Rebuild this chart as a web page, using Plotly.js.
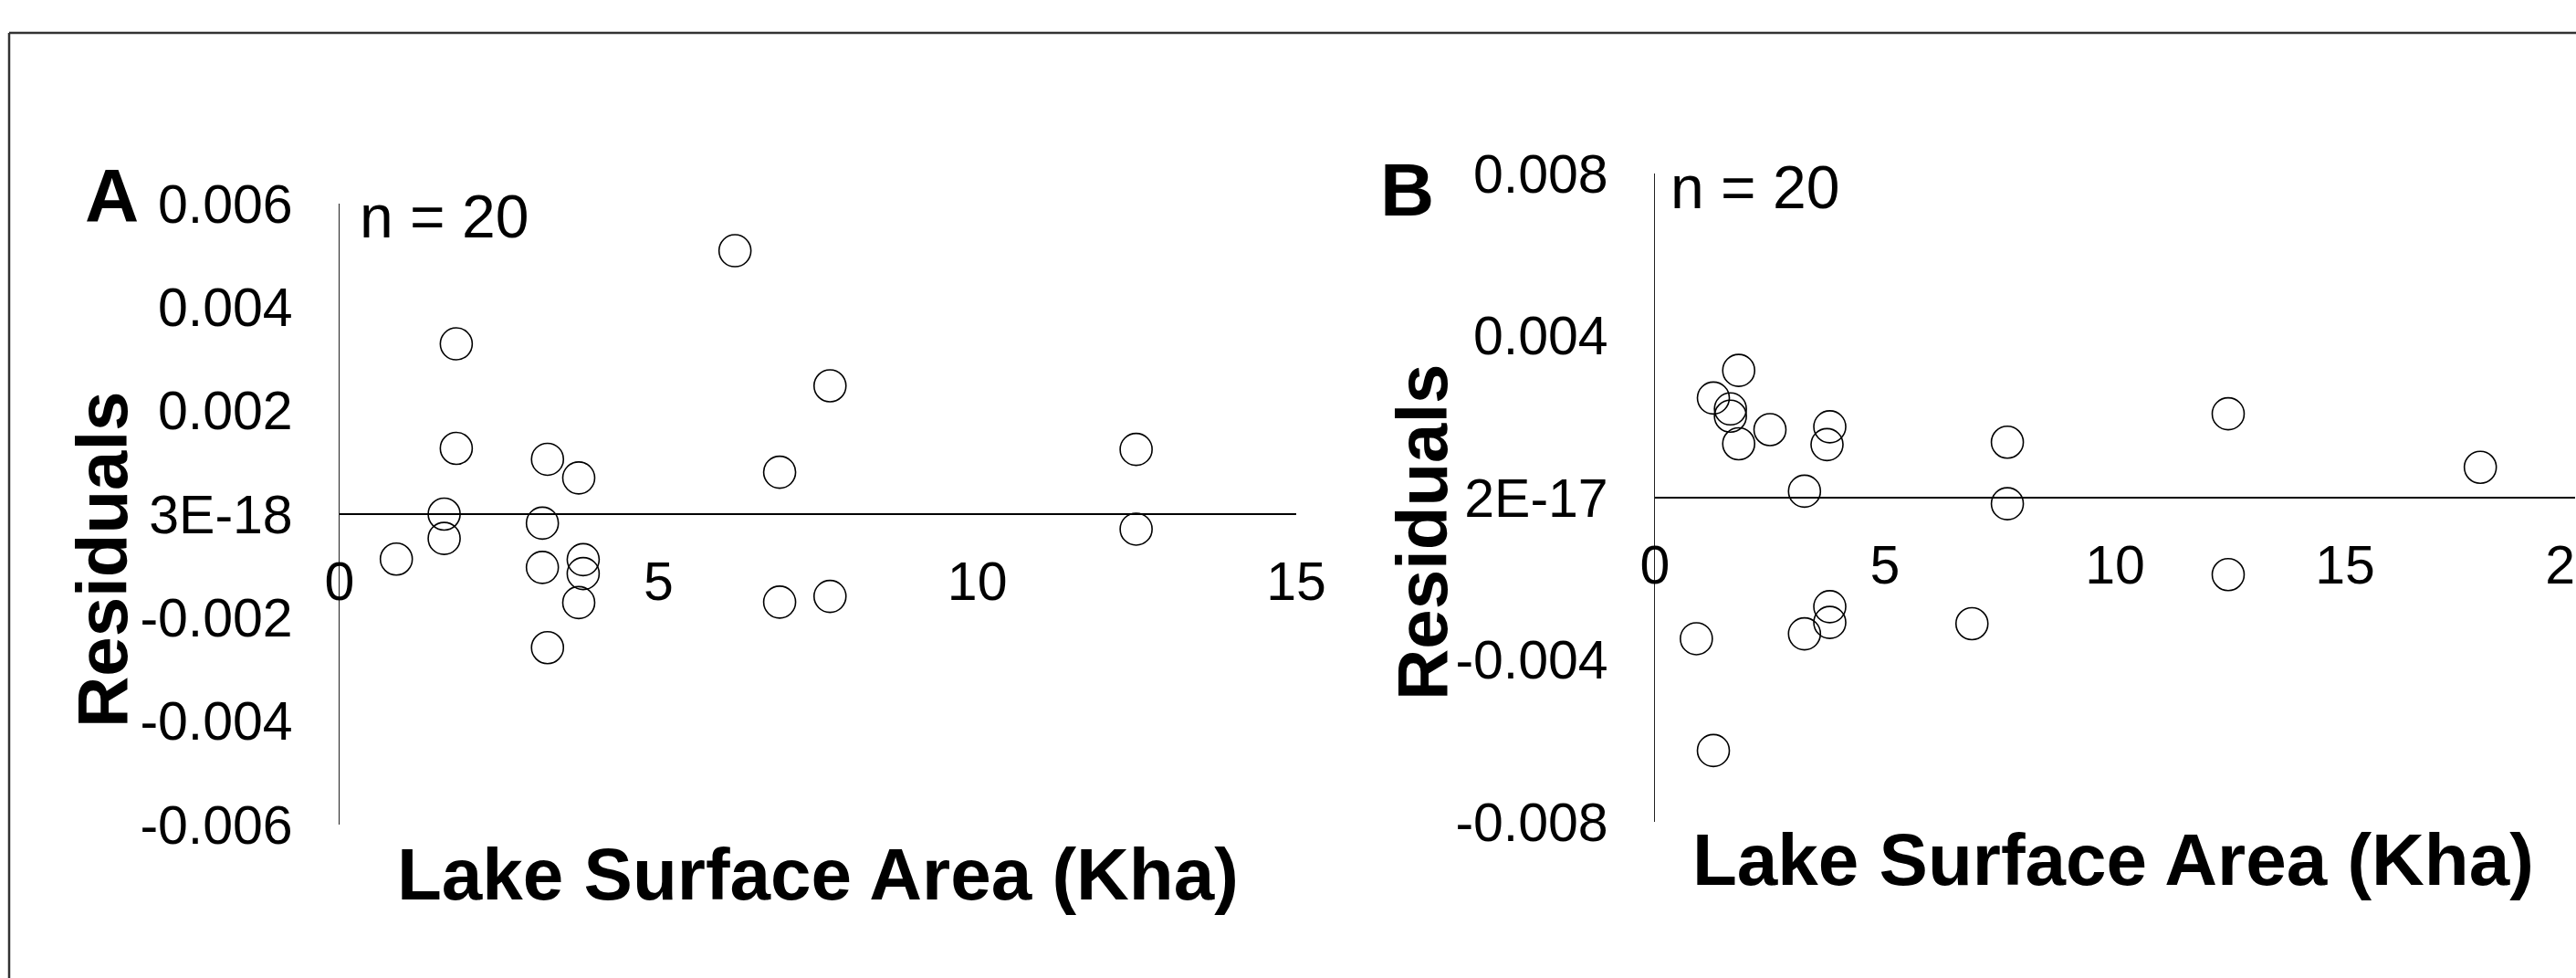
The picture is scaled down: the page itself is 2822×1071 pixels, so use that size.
<!DOCTYPE html>
<html>
<head>
<meta charset="utf-8">
<script src="https://cdn.plot.ly/plotly-3.0.1.min.js"></script>
<style>html,body{margin:0;padding:0;background:#fff;}#chart{width:2822px;height:1071px;}</style>
</head>
<body>
<div id="chart"></div>
<script>
// Panel A data
const areaA = [6.20, 1.83, 7.69, 1.83, 12.49, 3.26, 3.75, 6.90, 1.64, 3.18, 12.49, 1.64, 0.89, 3.18, 3.82, 3.82, 3.75, 6.90, 7.69, 3.26];
const residA = [0.00509, 0.00329, 0.00248, 0.00127, 0.00125, 0.00106, 0.00070, 0.00081, 0.00000, -0.000175, -0.00029, -0.00047, -0.00087, -0.00103, -0.00088, -0.00115, -0.00171, -0.00170, -0.00159, -0.00258];
// Panel B data
const areaB = [1.82, 1.27, 1.64, 1.64, 1.82, 2.50, 3.80, 3.74, 3.25, 7.66, 7.66, 12.46, 17.94, 12.46, 3.80, 3.80, 3.25, 0.90, 6.89, 1.27];
const residB = [0.00314, 0.00246, 0.00219, 0.00201, 0.00133, 0.00168, 0.00175, 0.00131, 0.00016, 0.00137, -0.00015, 0.00207, 0.00075, -0.00190, -0.00269, -0.00308, -0.00336, -0.00348, -0.00311, -0.00624];

const yTickValsA = [0.006, 0.004, 0.002, 0, -0.002, -0.004, -0.006];
const yTickTextA = ['0.006', '0.004', '0.002', '3E-18', '-0.002', '-0.004', '-0.006'];
const xTickValsA = [0, 5, 10, 15];
const yTickValsB = [0.008, 0.004, 0, -0.004, -0.008];
const yTickTextB = ['0.008', '0.004', '2E-17', '-0.004', '-0.008'];
const xTickValsB = [0, 5, 10, 15, 20];

const W = 2822, H = 1071;
const px = v => v / W;
const py = v => 1 - v / H;
const FONT = 'Liberation Sans, Arial, sans-serif';

const marker = {symbol: 'circle-open', size: 35, color: '#000', line: {width: 1.6, color: '#000'}};

const traces = [
  {x: areaA, y: residA, type: 'scatter', mode: 'markers', xaxis: 'x', yaxis: 'y', marker: marker, hoverinfo: 'none'},
  {x: areaB, y: residB, type: 'scatter', mode: 'markers', xaxis: 'x2', yaxis: 'y2', marker: marker, hoverinfo: 'none'}
];

const yDomA = [py(903), py(223)];
const yDomB = [py(900), py(190)];

const tickFont = {family: FONT, size: 59, color: '#000'};

const layout = {
  width: W, height: H,
  margin: {l: 0, r: 0, t: 0, b: 0},
  paper_bgcolor: '#fff', plot_bgcolor: 'rgba(0,0,0,0)',
  showlegend: false,
  font: {family: FONT, color: '#000'},
  xaxis: {
    domain: [px(372), px(1420)], range: [0, 15], anchor: 'free', position: (yDomA[0] + yDomA[1]) / 2,
    showline: true, linecolor: '#000', linewidth: 2, ticks: '', ticklen: 0,
    tickvals: xTickValsA, ticktext: xTickValsA.map(String), tickfont: tickFont,
    ticklabelstandoff: 22, ticklabeloverflow: 'allow', showgrid: false, zeroline: false, fixedrange: true
  },
  yaxis: {
    domain: yDomA, range: [-0.006, 0.006], anchor: 'x',
    showline: true, linecolor: '#222', linewidth: 1.5, ticks: '', ticklen: 0,
    tickvals: yTickValsA, ticktext: yTickTextA, tickfont: tickFont,
    ticklabelstandoff: 38, ticklabeloverflow: 'allow', showgrid: false, zeroline: false, fixedrange: true
  },
  xaxis2: {
    domain: [px(1813), px(2821)], range: [0, 20], anchor: 'free', position: (yDomB[0] + yDomB[1]) / 2,
    showline: true, linecolor: '#000', linewidth: 2, ticks: '', ticklen: 0,
    tickvals: xTickValsB, ticktext: xTickValsB.map(String), tickfont: tickFont,
    ticklabelstandoff: 22, ticklabeloverflow: 'allow', showgrid: false, zeroline: false, fixedrange: true
  },
  yaxis2: {
    domain: yDomB, range: [-0.008, 0.008], anchor: 'x2',
    showline: true, linecolor: '#222', linewidth: 1.5, ticks: '', ticklen: 0,
    tickvals: yTickValsB, ticktext: yTickTextB, tickfont: tickFont,
    ticklabelstandoff: 38, ticklabeloverflow: 'allow', showgrid: false, zeroline: false, fixedrange: true
  },
  shapes: [
    {type: 'line', xref: 'paper', yref: 'paper', x0: px(10), x1: px(10), y0: -0.02, y1: py(36), line: {color: '#333', width: 2.5}},
    {type: 'line', xref: 'paper', yref: 'paper', x0: px(10), x1: 1.02, y0: py(36), y1: py(36), line: {color: '#333', width: 2.5}}
  ],
  annotations: [
    {text: '<b>A</b>', xref: 'paper', yref: 'paper', x: px(122), y: py(214), xanchor: 'center', yanchor: 'middle', showarrow: false, font: {family: FONT, size: 82, color: '#000'}},
    {text: '<b>B</b>', xref: 'paper', yref: 'paper', x: px(1541), y: py(208), xanchor: 'center', yanchor: 'middle', showarrow: false, font: {family: FONT, size: 82, color: '#000'}},
    {text: 'n = 20', xref: 'paper', yref: 'paper', x: px(392), y: py(237), xanchor: 'left', yanchor: 'middle', showarrow: false, font: {family: FONT, size: 66, color: '#000'}},
    {text: 'n = 20', xref: 'paper', yref: 'paper', x: px(1828), y: py(205), xanchor: 'left', yanchor: 'middle', showarrow: false, font: {family: FONT, size: 66, color: '#000'}},
    {text: '<b>Residuals</b>', xref: 'paper', yref: 'paper', x: px(112), y: py(613), xanchor: 'center', yanchor: 'middle', textangle: -90, showarrow: false, font: {family: FONT, size: 78, color: '#000'}},
    {text: '<b>Residuals</b>', xref: 'paper', yref: 'paper', x: px(1558), y: py(583), xanchor: 'center', yanchor: 'middle', textangle: -90, showarrow: false, font: {family: FONT, size: 78, color: '#000'}},
    {text: '<b>Lake Surface Area (Kha)</b>', xref: 'paper', yref: 'paper', x: px(896), y: py(957), xanchor: 'center', yanchor: 'middle', showarrow: false, font: {family: FONT, size: 80, color: '#000'}},
    {text: '<b>Lake Surface Area (Kha)</b>', xref: 'paper', yref: 'paper', x: px(2315), y: py(941), xanchor: 'center', yanchor: 'middle', showarrow: false, font: {family: FONT, size: 80, color: '#000'}}
  ]
};

Plotly.newPlot('chart', traces, layout, {staticPlot: true, displayModeBar: false});
</script>
</body>
</html>
